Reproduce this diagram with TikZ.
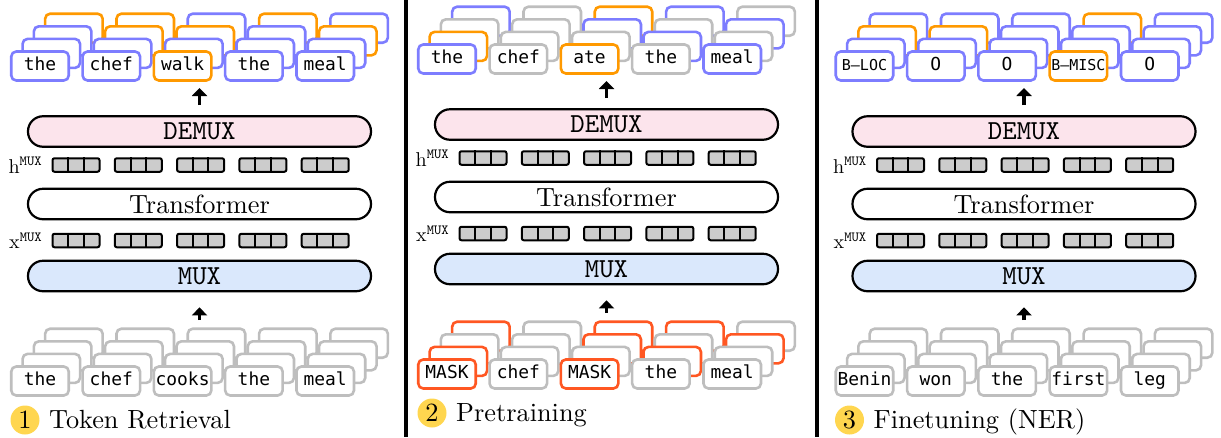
\documentclass[tikz,border=0pt]{standalone}
\usepackage{fontspec}
\usetikzlibrary{arrows.meta}

\setmainfont{lmroman10-regular.otf}
\setmonofont{lmmono10-regular.otf}
\newfontfamily\tokfam{DejaVu Sans Mono}
\newcommand{\tokfont}{\fontsize{17.9}{20}\selectfont\tokfam}
\newcommand{\romfont}{\fontsize{26.3}{30}\selectfont}
\newcommand{\pillfont}{\fontsize{27.5}{30}\selectfont\ttfamily}
\newcommand{\suplabfont}{\fontsize{20}{22}\selectfont}
\newcommand{\tagtxt}[1]{{\fontsize{15}{16}\selectfont #1}}

\definecolor{tB}{RGB}{125,125,255}
\definecolor{tO}{RGB}{255,153,0}
\definecolor{tR}{RGB}{255,87,34}
\definecolor{tG}{RGB}{190,190,190}
\definecolor{demuxpink}{RGB}{252,228,236}
\definecolor{muxblue}{RGB}{218,232,252}
\definecolor{cellgray}{RGB}{204,204,204}
\definecolor{dotyellow}{RGB}{255,214,79}

\tikzset{
  tok/.style={draw, fill=white, line width=2.6pt, rounded corners=5pt,
    minimum width=57.5pt, minimum height=29pt, inner sep=0pt,
    text height=12.5pt, text depth=4.5pt, font=\tokfont},
  pill/.style={draw, line width=2.2pt, rounded corners=15pt,
    minimum width=343pt, minimum height=30.5pt, inner sep=0pt},
  cellgroup/.style={draw, fill=cellgray, line width=2pt, rounded corners=2pt,
    minimum width=47pt, minimum height=13.5pt, inner sep=0pt},
  celldiv/.style={line width=2pt},
  uparr/.style={line width=3.5pt, -{Triangle[width=15pt,length=8pt]}},
  numdot/.style={circle, fill=dotyellow, minimum size=29pt, inner sep=0pt, font=\romfont},
  panelsep/.style={line width=3.5pt}
}

% one row of empty boxes behind the front row
\newcommand{\backrow}[3]{%
  \foreach \c [count=\i from 0] in {#3}
    \node[tok, draw=\c] (#1-#2-\i) at ({71.3*\i+11.3*#2}, {-12.6*#2}) {};
}
% front row with the words
\newcommand{\frontrow}[2]{%
  \foreach \c/\w [count=\i from 0] in {#2}
    \node[tok, draw=\c] (#1-0-\i) at ({71.3*\i}, 0) {\w};
}
% DEMUX / Transformer / MUX block of one panel
\newcommand{\muxcore}[1]{%
  \node[pill, fill=demuxpink, font=\pillfont] (demux#1) at (199.5,131.5) {DEMUX};
  \node[pill, fill=white, font=\romfont] (trans#1) at (199.5,204) {Transformer};
  \node[pill, fill=muxblue, font=\pillfont] (mux#1) at (199.5,276) {MUX};
  \foreach \rowname/\rowy in {h/165, x/240.5} {
    \foreach \i in {0,...,4} {
      \node[cellgroup] (\rowname#1-\i) at ({76+62.3*\i},\rowy) {};
      \draw[celldiv] ([xshift=-7.8pt]\rowname#1-\i.north) -- ([xshift=-7.8pt]\rowname#1-\i.south);
      \draw[celldiv] ([xshift=7.8pt]\rowname#1-\i.north) -- ([xshift=7.8pt]\rowname#1-\i.south);
    }
    \node[anchor=east, inner sep=0pt, font=\suplabfont] (\rowname lab#1) at ([xshift=-9pt]\rowname#1-0.west) {$\mathrm{\rowname}^{\mathtt{MUX}}$};
  }
  \coordinate (outtip#1) at (199.5,88);
  \coordinate (intail#1) at (199.5,320);
  \draw[uparr, shorten <=10pt] (demux#1) -- (outtip#1);
  \draw[uparr, shorten >=15pt] (intail#1) -- (mux#1);
}
\newcommand{\panellabel}[2]{%
  \node[numdot] (num#1) at (25,420) {#1};
  \node[anchor=base west, inner sep=0pt, font=\romfont] (lab#1) at (49,428) {#2};
}

\begin{document}
\begin{tikzpicture}[x=1pt, y=-1pt]
  \useasboundingbox (0,0) rectangle (1221,437);
  \draw[panelsep] (406,0) -- (406,437);
  \draw[panelsep] (817,0) -- (817,437);

  % 1 token retrieval
  \begin{scope}
    \muxcore{1}
    \begin{scope}[shift={(40,66)}]
      \backrow{out1}{3}{tO,tO,tB,tO,tB}
      \backrow{out1}{2}{tB,tO,tO,tB,tO}
      \backrow{out1}{1}{tB,tB,tB,tB,tB}
      \frontrow{out1}{tB/the,tB/chef,tO/walk,tB/the,tB/meal}
    \end{scope}
    \begin{scope}[shift={(40,381)}]
      \backrow{in1}{3}{tG,tG,tG,tG,tG}
      \backrow{in1}{2}{tG,tG,tG,tG,tG}
      \backrow{in1}{1}{tG,tG,tG,tG,tG}
      \frontrow{in1}{tG/the,tG/chef,tG/cooks,tG/the,tG/meal}
    \end{scope}
    \panellabel{1}{Token Retrieval}
  \end{scope}

  % 2 pretraining
  \begin{scope}[shift={(407,-7)}]
    \muxcore{2}
    \begin{scope}[shift={(40,66)}]
      \backrow{out2}{3}{tB,tG,tO,tB,tG}
      \backrow{out2}{2}{tG,tG,tB,tG,tB}
      \backrow{out2}{1}{tO,tG,tG,tB,tG}
      \frontrow{out2}{tB/the,tG/chef,tO/ate,tG/the,tB/meal}
    \end{scope}
    \begin{scope}[shift={(40,381)}]
      \backrow{in2}{3}{tR,tG,tR,tR,tG}
      \backrow{in2}{2}{tG,tG,tR,tG,tR}
      \backrow{in2}{1}{tR,tG,tG,tR,tG}
      \frontrow{in2}{tR/MASK,tG/chef,tR/MASK,tG/the,tG/meal}
    \end{scope}
    \panellabel{2}{Pretraining}
  \end{scope}

  % 3 finetuning
  \begin{scope}[shift={(824.5,0)}]
    \muxcore{3}
    \begin{scope}[shift={(40,66)}]
      \backrow{out3}{3}{tB,tB,tB,tO,tB}
      \backrow{out3}{2}{tO,tO,tB,tB,tB}
      \backrow{out3}{1}{tB,tB,tB,tB,tB}
      \frontrow{out3}{tB/\tagtxt{B–LOC},tB/O,tB/O,tO/\tagtxt{B–MISC},tB/O}
    \end{scope}
    \begin{scope}[shift={(40,381)}]
      \backrow{in3}{3}{tG,tG,tG,tG,tG}
      \backrow{in3}{2}{tG,tG,tG,tG,tG}
      \backrow{in3}{1}{tG,tG,tG,tG,tG}
      \frontrow{in3}{tG/Benin,tG/won,tG/the,tG/first,tG/leg}
    \end{scope}
    \panellabel{3}{Finetuning (NER)}
  \end{scope}
\end{tikzpicture}
\end{document}
